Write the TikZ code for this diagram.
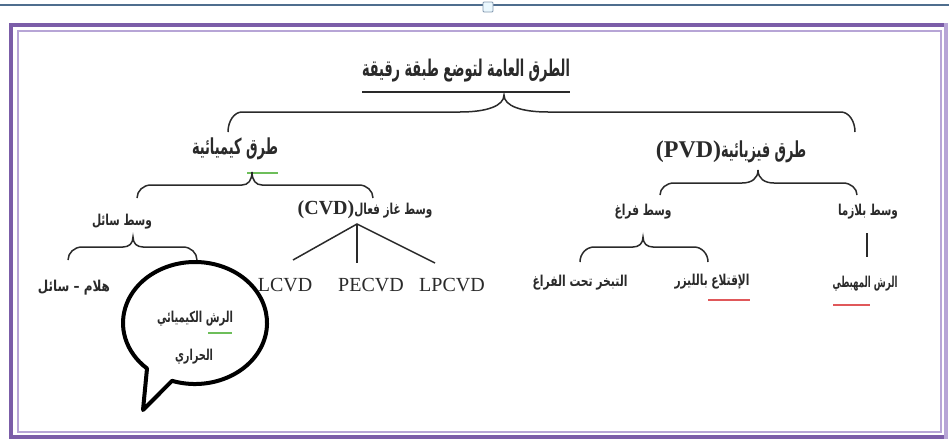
\documentclass[tikz,border=0pt]{standalone}
\usepackage{fontspec}
\usepackage{graphicx}
\TeXXeTstate=1
\newfontfamily\arb[Script=Arabic]{DejaVu Sans}
\newfontfamily\lat{Liberation Serif}
\newcommand\ar[3]{\resizebox{#1pt}{\height}{\fontsize{#2}{#2}\selectfont\arb\bfseries #3}}
\newcommand\curly[7]{%
  \draw[brc] (#1,#6) .. controls (#1,{#4+0.45*(#6-#4)}) and ({#1+0.45*14},#4) .. ({#1+14},#4)
   -- ({#2-#7},#4) .. controls ({#2-0.4*#7},#4) and (#2,{#4-0.35*(#4-#5)}) .. (#2,#5)
   .. controls (#2,{#4-0.35*(#4-#5)}) and ({#2+0.4*#7},#4) .. ({#2+#7},#4)
   -- ({#3-14},#4) .. controls ({#3-0.45*14},#4) and (#3,{#4+0.45*(#6-#4)}) .. (#3,#6);}
\definecolor{purpD}{HTML}{7B5DA8}
\definecolor{purpL}{HTML}{B7A5D6}
\definecolor{topline}{HTML}{4F6E8E}
\definecolor{ink}{HTML}{2A2A2A}
\definecolor{spellG}{HTML}{6DBE5A}
\definecolor{spellR}{HTML}{E0585A}
\begin{document}
\begin{tikzpicture}[x=1pt,y=-1pt,
  lbl/.style={inner sep=0pt,text=ink},
  brc/.style={draw=ink,line width=1.5pt},
  conn/.style={draw=ink,line width=1.5pt},
  ulG/.style={draw=spellG,line width=1.2pt},
  ulR/.style={draw=spellR,line width=1.2pt}]
\useasboundingbox (0,0) rectangle (949,439);
\fill[white] (0,0) rectangle (949,439);
% top ruler line and tab
\draw[topline,line width=2pt] (0,5) -- (949,5);
\draw[draw=topline!70,fill=cyan!8,line width=0.8pt,rounded corners=1pt] (483,2) rectangle (493,12);
% purple frame
\draw[purpL,line width=2.5pt] (18,31) rectangle (941,432);
\draw[purpD,line width=4pt] (946,25) -- (11,25) -- (11,437) -- (946,437);
\draw[purpL,line width=4pt] (946,23) -- (946,439);
% texts
\node[lbl] (title) at (466,71) {\ar{208}{23}{\beginR الطرق العامة لتوضع طبقة رقيقة\endR}};
\node[lbl] (chem) at (235,149) {\ar{86}{22}{\beginR طرق كيميائية\endR}};
\node[lbl] (phys) at (731,152) {{\lat\bfseries\fontsize{24}{24}\selectfont(PVD)}\ar{85}{22}{\beginR طرق فيزيائية\endR}};
\node[lbl] (cvd) at (365,210) {{\lat\bfseries\fontsize{20}{20}\selectfont(CVD)}\ar{78}{15}{\beginR وسط غاز فعال\endR}};
\node[lbl] (liq) at (122,222) {\ar{60}{15}{\beginR وسط سائل\endR}};
\node[lbl] (vac) at (643,212) {\ar{57}{15}{\beginR وسط فراغ\endR}};
\node[lbl] (plasma) at (868,212) {\ar{60}{15}{\beginR وسط بلازما\endR}};
\node[lbl] (gel) at (74,288) {\ar{72}{15}{\beginR هلام – سائل\endR}};
\node[lbl,font=\lat\fontsize{20}{20}\selectfont] (lcvd) at (285,285) {LCVD};
\node[lbl,font=\lat\fontsize{20}{20}\selectfont] (pecvd) at (371,285) {PECVD};
\node[lbl,font=\lat\fontsize{20}{20}\selectfont] (lpcvd) at (452,285) {LPCVD};
\node[lbl] (evap) at (580,283) {\ar{95}{15}{\beginR التبخر تحت الفراغ\endR}};
\node[lbl] (laser) at (712,282) {\ar{75}{15}{\beginR الإقتلاع بالليزر\endR}};
\node[lbl] (sputter) at (865,284) {\ar{65}{15}{\beginR الرش المهبطي\endR}};
\node[lbl] (spray) at (195,319) {\ar{76}{15}{\beginR الرش الكيميائي\endR}};
\node[lbl] (spray2) at (194,357) {\ar{38}{15}{\beginR الحراري\endR}};
% underlines
\draw[ink,line width=2pt] (362,92) -- (570,92);
\draw[ulG] (247,173) -- (278,173);
\draw[ulG] (208,333) -- (232,333);
\draw[ulR] (708,300) -- (750,300);
\draw[ulR] (833,305) -- (870,305);
% braces
\curly{228}{504}{855}{112}{95}{132}{44}
\curly{137}{252}{373}{185}{172}{198}{10}
\curly{660}{758}{857}{183}{170}{195}{16}
\curly{68}{133}{197}{247}{237}{260}{10}
\curly{580}{643}{708}{247}{237}{262}{10}
% CVD tree
\coordinate (apex) at (357,224);
\coordinate (tl) at (293,260);
\coordinate (tm) at (357,263);
\coordinate (tr) at (435,263);
\draw[conn] (tl) -- (apex) -- (tr);
\draw[conn] (apex) -- (tm);
% plasma line
\coordinate (pl1) at (867,233);
\coordinate (pl2) at (867,257);
\draw[conn] (pl1) -- (pl2);
% callout bubble
\coordinate (bB) at ({195+72*cos(108.6)},{323+61*sin(108.6)});
\coordinate (btip) at (143,410);
\draw[black,line width=4pt,line join=round] (bB) arc[start angle=108.6,end angle=-228.2,x radius=72,y radius=61] -- (btip) -- cycle;
\end{tikzpicture}
\end{document}
